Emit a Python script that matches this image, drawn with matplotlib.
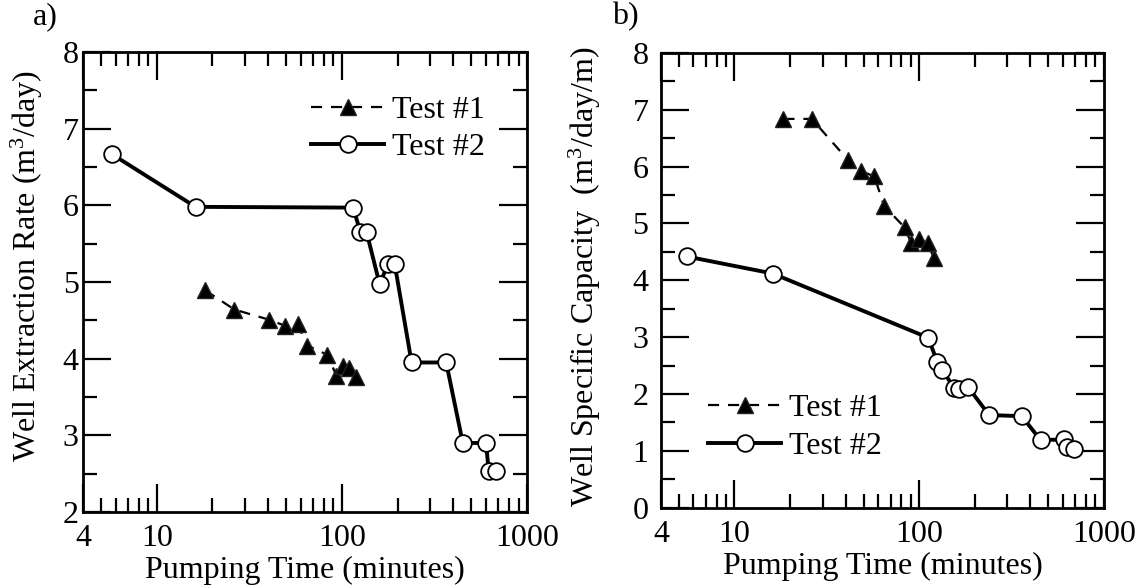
import matplotlib
matplotlib.use("Agg")
import matplotlib.pyplot as plt
from matplotlib.ticker import LogLocator, FixedLocator, MultipleLocator, NullFormatter

# ---- data ----
# Panel a) Well extraction rate
a_t1_time = [18.3, 26.3, 40.2, 49.2, 57.6, 65.2, 83.5, 93.3, 101, 109, 119]
a_t1_rate = [4.89, 4.64, 4.51, 4.43, 4.45, 4.17, 4.05, 3.78, 3.91, 3.88, 3.76]
a_t2_time = [5.7, 16.2, 115, 126, 136, 160, 177, 193, 238, 366, 450, 601, 621, 679]
a_t2_rate = [6.67, 5.98, 5.97, 5.65, 5.65, 4.97, 5.23, 5.23, 3.95, 3.95, 2.90, 2.90, 2.53, 2.53]

# Panel b) Well specific capacity
b_t1_time = [18.4, 26.2, 41.1, 48.5, 57.1, 64.6, 83.4, 90.6, 100, 111, 120]
b_t1_cap = [6.84, 6.84, 6.12, 5.92, 5.83, 5.31, 4.93, 4.65, 4.73, 4.65, 4.40]
b_t2_time = [5.5, 16.1, 112, 125, 133, 155, 165, 184, 239, 359, 454, 608, 631, 690]
b_t2_cap = [4.42, 4.12, 2.99, 2.57, 2.43, 2.10, 2.08, 2.12, 1.63, 1.61, 1.19, 1.20, 1.06, 1.04]

x_ticks = [4, 10, 100, 1000]
x_labels = ["4", "10", "100", "1000"]
legend_labels = ["Test #1", "Test #2"]

plt.rcParams['font.family'] = ['Liberation Serif', 'DejaVu Serif']
plt.rcParams['mathtext.fontset'] = 'custom'
plt.rcParams['mathtext.rm'] = 'Liberation Serif'
plt.rcParams['mathtext.it'] = 'Liberation Serif:italic'

FS = 23
fig = plt.figure(figsize=(11.39, 5.88), dpi=100)
ax1 = fig.add_axes([0.0729, 0.1293, 0.3898, 0.7823])
ax2 = fig.add_axes([0.5803, 0.1366, 0.3889, 0.7733])


def style(ax, ylim, ylabel, ylab_xy, ypad):
    ax.set_xscale('log')
    ax.set_xlim(4, 1000)
    ax.set_ylim(*ylim)
    ax.xaxis.set_major_locator(FixedLocator(x_ticks))
    ax.set_xticklabels(x_labels)
    ax.xaxis.set_minor_locator(LogLocator(base=10, subs=range(2, 10), numticks=20))
    ax.xaxis.set_minor_formatter(NullFormatter())
    ax.yaxis.set_major_locator(MultipleLocator(1))
    ax.yaxis.set_minor_locator(MultipleLocator(0.5))
    ax.tick_params(which='both', direction='in', top=True, right=True, width=1.6, labelsize=FS)
    ax.tick_params(which='major', length=20)
    ax.tick_params(which='minor', length=10)
    ax.tick_params(axis='x', which='major', pad=9)
    ax.tick_params(axis='y', which='major', pad=ypad)
    for s in ax.spines.values():
        s.set_linewidth(2)
    ax.set_xlabel("Pumping Time (minutes)", fontsize=FS, labelpad=2)
    ax.set_ylabel(ylabel, fontsize=FS)
    ax.yaxis.set_label_coords(*ylab_xy)


def plot_series(ax, t1x, t1y, t2x, t2y):
    h1, = ax.plot(t1x, t1y, color='black', linestyle=(0, (5, 4)), linewidth=1.6,
                  marker='^', markersize=11.5, markerfacecolor='black',
                  markeredgecolor='#222222', markeredgewidth=1, zorder=3)
    h2, = ax.plot(t2x, t2y, color='black', linestyle='-', linewidth=2.8,
                  marker='o', markersize=12, markerfacecolor='white',
                  markeredgecolor='black', markeredgewidth=1.3, zorder=4)
    return h1, h2


h1, h2 = plot_series(ax1, a_t1_time, a_t1_rate, a_t2_time, a_t2_rate)
style(ax1, (2, 8), "Well Extraction Rate (m$^{3}$/day)", (-0.086, 0.535), 3)
ax1.legend([h1, h2], legend_labels, loc='upper left', bbox_to_anchor=(0.513, 0.905),
           frameon=False, fontsize=FS, handlelength=2.3, handletextpad=0.25,
           labelspacing=0.25, borderaxespad=0, borderpad=0)

h1, h2 = plot_series(ax2, b_t1_time, b_t1_cap, b_t2_time, b_t2_cap)
style(ax2, (0, 8), "Well Specific Capacity  (m$^{3}$/day/m)", (-0.131, 0.507), 9)
ax2.legend([h1, h2], legend_labels, loc='upper left', bbox_to_anchor=(0.106, 0.25),
           frameon=False, fontsize=FS, handlelength=2.3, handletextpad=0.25,
           labelspacing=0.25, borderaxespad=0, borderpad=0)

fig.text(45 / 1139, 1 - 17 / 588, "a)", fontsize=FS, ha='center', va='center')
fig.text(625 / 1139, 1 - 17 / 588, "b)", fontsize=FS, ha='center', va='center')

fig.savefig("out.png", dpi=100)
